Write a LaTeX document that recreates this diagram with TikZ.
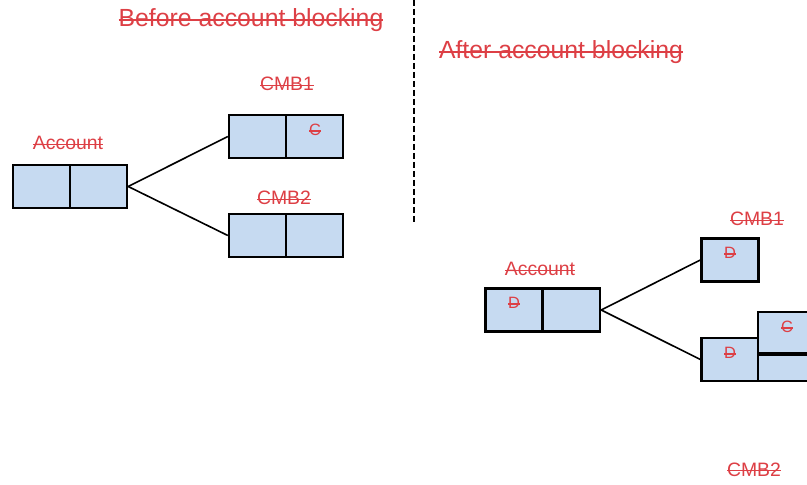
\documentclass[tikz,border=0pt]{standalone}
\usepackage{fontspec}
\setmainfont{Liberation Sans}
\usetikzlibrary{positioning}
\definecolor{cStrike}{HTML}{DD3F45}
\definecolor{cCell}{HTML}{C6DAF1}
\def\strkw{0.8pt}
\newcommand{\strk}[1]{\setbox0\hbox{#1}\rlap{\rule[\dimexpr0.28em-0.5\dimexpr\strkw\relax\relax]{\wd0}{\strkw}}\box0}

\begin{document}
\begin{tikzpicture}[x=0.5pt, y=-0.5pt,
    cellbox/.style={draw=black, line width=1.2pt, fill=cCell, minimum width=28.5pt, minimum height=21.5pt, inner sep=0pt},
    ttl/.style={font=\fontsize{12.4}{14}\selectfont\def\strkw{1pt}, text=cStrike, anchor=base, inner sep=0pt},
    lbl/.style={font=\fontsize{9.7}{11}\selectfont\def\strkw{0.8pt}, text=cStrike, anchor=base, inner sep=0pt},
    sym/.style={font=\fontsize{8.2}{9}\selectfont\def\strkw{0.7pt}, text=cStrike, inner sep=0pt},
    link/.style={line width=0.8pt, black}
]
\useasboundingbox (0,0) rectangle (807,485);
\clip (0,0) rectangle (807,485);

% before
\node[ttl] (before) at (251,27) {\strk{Before account blocking}};

\node[cellbox] (accL1) at (41.5,186.5) {};
\node[cellbox] (accL2) at (98.5,186.5) {};
\node[lbl] (accLlbl) at (68,150) {\strk{Account}};

\node[cellbox] (cmbA1) at (257.5,136.5) {};
\node[cellbox] (cmbA2) at (314.5,136.5) {};
\node[lbl] (cmbAlbl) at (287,91) {\strk{CMB1}};
\node[sym] (symA) at (315,130) {\strk{C}};

\node[cellbox] (cmbB1) at (257.5,235.5) {};
\node[cellbox] (cmbB2) at (314.5,235.5) {};
\node[lbl] (cmbBlbl) at (284,205) {\strk{CMB2}};

\draw[link] (accL2.east) -- (cmbA1.west);
\draw[link] (accL2.east) -- (cmbB1.west);

% separator
\coordinate (sepTop) at (414,0);
\coordinate (sepBot) at (414,223);
\draw[line width=1pt, dash pattern=on 3pt off 1.5pt] (sepTop) -- (sepBot);

% after
\node[ttl] (after) at (561,59) {\strk{After account blocking}};

\node[cellbox] (accR1) at (514,310) {};
\node[cellbox] (accR2) at (571.5,310) {};
\node[lbl] (accRlbl) at (540,276) {\strk{Account}};
\node[sym] (symB) at (514,303) {\strk{D}};

\node[cellbox] (cmbC1) at (730,260) {};
\node[lbl] (cmbClbl) at (757,226) {\strk{CMB1}};
\node[sym] (symC) at (730,253) {\strk{D}};

\node[cellbox] (cmbD1) at (730,359.5) {};
\node[cellbox, minimum height=20.5pt] (cmbD2) at (786.5,332.5) {};
\node[cellbox, minimum height=13pt] (cmbD3) at (786.5,368) {};
\node[sym] (symD) at (730,353) {\strk{D}};
\node[sym] (symE) at (787,327) {\strk{C}};
\node[lbl] (cmbDlbl) at (754,476) {\strk{CMB2}};

\draw[link] (accR2.east) -- (cmbC1.west);
\draw[link] (accR2.east) -- (cmbD1.west);

\end{tikzpicture}
\end{document}
